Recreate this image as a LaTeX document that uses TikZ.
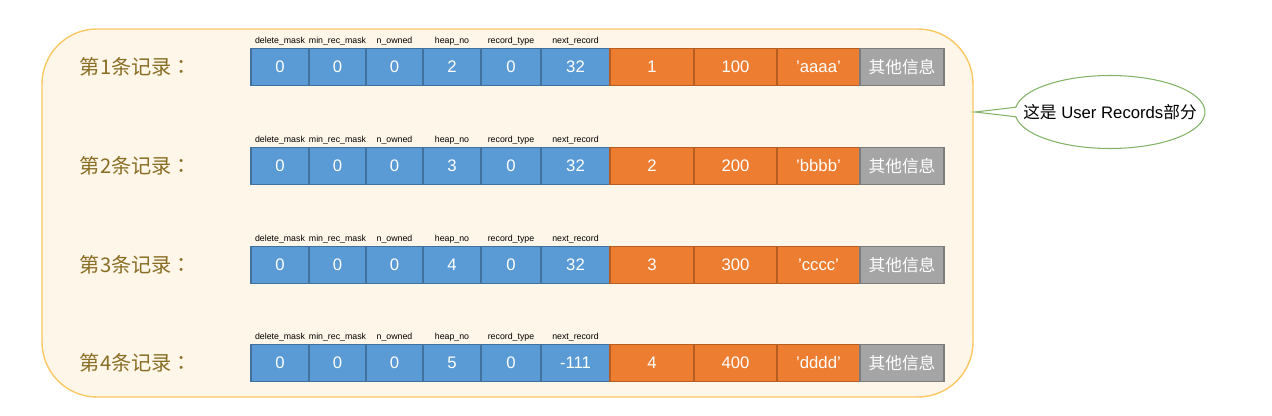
\documentclass[tikz,border=0pt]{standalone}
\usepackage{fontspec}
\setmainfont{Liberation Sans}
\newfontfamily\cjk{Noto Sans CJK SC}
\newfontfamily\cjktc{Noto Sans CJK TC}
\usetikzlibrary{shapes.callouts}

\definecolor{framefill}{HTML}{FEF6E9}
\definecolor{frameline}{HTML}{FAC862}
\definecolor{labeltext}{HTML}{8A6E24}
\definecolor{hdrblue}{HTML}{5B9BD5}
\definecolor{hdrblueline}{HTML}{41719C}
\definecolor{datorange}{HTML}{ED7D31}
\definecolor{datorangeline}{HTML}{B65E22}
\definecolor{othergray}{HTML}{A5A5A5}
\definecolor{othergrayline}{HTML}{7C7C7C}
\definecolor{notegreen}{HTML}{82B366}

\begin{document}
\begin{tikzpicture}[x=0.02cm,y=-0.02cm,
    cell/.style={draw, line width=0.6pt, inner sep=0pt, outer sep=0pt,
      minimum height=0.74cm, text=white, font=\fontsize{9.5}{10}\selectfont},
    hdr/.style={cell, fill=hdrblue, draw=hdrblueline},
    dat/.style={cell, fill=datorange, draw=datorangeline},
    other/.style={cell, fill=othergray, draw=othergrayline},
    fieldname/.style={anchor=south, inner sep=0pt, font=\fontsize{5}{6}\selectfont},
    rowlabel/.style={text=labeltext, font=\cjk\fontsize{11.5}{13}\selectfont}]
  \useasboundingbox (0,0) rectangle (1272,416);

  \begin{scope}
    \draw [fill=framefill, draw=frameline, line width=0.8pt, rounded corners=1.1cm]
      (42,29) rectangle (973,397);

    \foreach \r/\y/\h/\n/\k/\v/\s in {1/67/2/32/1/100/aaaa, 2/166/3/32/2/200/bbbb,
                                      3/265/4/32/3/300/cccc, 4/363/5/-111/4/400/dddd} {
      \node [rowlabel] (lab\r) at (136,\y) {第\r 条记录{\cjktc ：}};

      \foreach \xa/\xb/\t/\f/\st [count=\i] in {
          251/309/0/delete\_mask/hdr, 309/366/0/min\_rec\_mask/hdr,
          366/423/0/n\_owned/hdr, 423/481/\h/heap\_no/hdr,
          481/541/0/record\_type/hdr, 541/610/\n/next\_record/hdr,
          610/694/\k//dat, 694/777/\v//dat, 777/860/'\s'//dat,
          860/944/{\cjk 其他信息}//other} {
        \node [\st, minimum width={(\xb-\xa)*0.02cm}] (c\r-\i) at ({(\xa+\xb)/2},\y) {\t};
        \node [fieldname] (f\r-\i) at ({(\xa+\xb)/2},\y-21) {\f};
      }
    }

    % callout
    \coordinate (tip) at (975,112);
    \node [ellipse callout, draw=notegreen, fill=white, line width=0.6pt,
           minimum width=3.8cm, minimum height=1.46cm, inner sep=0pt,
           callout absolute pointer={(tip)},
           font=\fontsize{9.5}{10}\selectfont] (note) at (1110,112)
           {\makebox[0pt]{{\cjk 这是} User Records{\cjk 部分}}};
  \end{scope}
\end{tikzpicture}
\end{document}
